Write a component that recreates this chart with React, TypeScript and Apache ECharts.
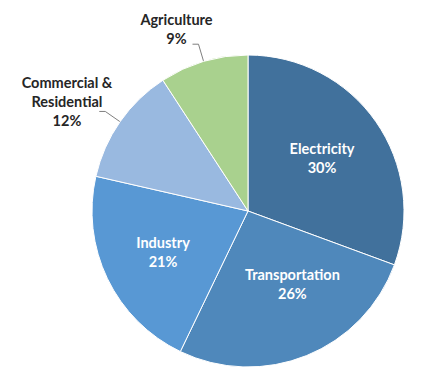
import React, { useEffect, useRef } from 'react';
import * as echarts from 'echarts';

const categories = ['Electricity', 'Transportation', 'Industry', 'Commercial & Residential', 'Agriculture'];
const labelTextLines = [['Electricity'], ['Transportation'], ['Industry'], ['Commercial &', 'Residential'], ['Agriculture']];
const values = [30, 26, 21, 12, 9];
const colors = ['#41719C', '#4F88BB', '#5898D4', '#99B9E0', '#A9D18E'];
const labelPositions = ['inside', 'inside', 'inside', 'outside', 'outside'];
const labelShift = [[7.6, -6.4], [14, -2], [-12, 6], [18, -10], [25, -15]];
const lineLengths = [[0, 0], [0, 0], [0, 0], [18, 6], [18, 6]];

const FONT = 'Lato, "Open Sans", sans-serif';

export default function App() {
  const ref = useRef<HTMLDivElement>(null);
  useEffect(() => {
    if (!ref.current) return;
    const chart = echarts.init(ref.current, null, { renderer: 'svg' });
    const data = categories.map((name, i) => {
      const inside = labelPositions[i] === 'inside';
      const color = inside ? '#ffffff' : '#262626';
      return {
        name,
        value: values[i],
        itemStyle: { color: colors[i] },
        label: {
          position: labelPositions[i],
          color,
          rich: {
            a: {
              align: 'center',
              color,
              fontFamily: FONT,
              fontWeight: 'bold',
              fontSize: 14.5,
              lineHeight: 19,
            },
          },
        },
        labelLine: {
          show: !inside,
          length: lineLengths[i][0],
          length2: lineLengths[i][1],
        },
      };
    });
    chart.setOption({
      animation: false,
      backgroundColor: '#ffffff',
      series: [
        {
          type: 'pie',
          center: [248, 211],
          radius: 156,
          startAngle: 90,
          clockwise: true,
          avoidLabelOverlap: false,
          emphasis: { disabled: true },
          itemStyle: { borderColor: '#ffffff', borderWidth: 1 },
          label: {
            show: true,
            fontFamily: FONT,
            fontWeight: 'bold',
            fontSize: 14.5,
            lineHeight: 19,
            formatter: (p: any) =>
              labelTextLines[p.dataIndex].map((l) => `{a|${l}}`).join('\n') + `\n{a|${values[p.dataIndex]}%}`,
          },
          labelLine: {
            show: true,
            lineStyle: { color: '#7F7F7F', width: 1 },
          },
          labelLayout: (params: any) => ({
            dx: labelShift[params.dataIndex][0],
            dy: labelShift[params.dataIndex][1],
          }),
          data,
        },
      ],
    });
    return () => chart.dispose();
  }, []);
  return (
    <div
      ref={ref}
      style={{ position: 'fixed', left: 0, top: 0, width: 429, height: 378 }}
    />
  );
}
